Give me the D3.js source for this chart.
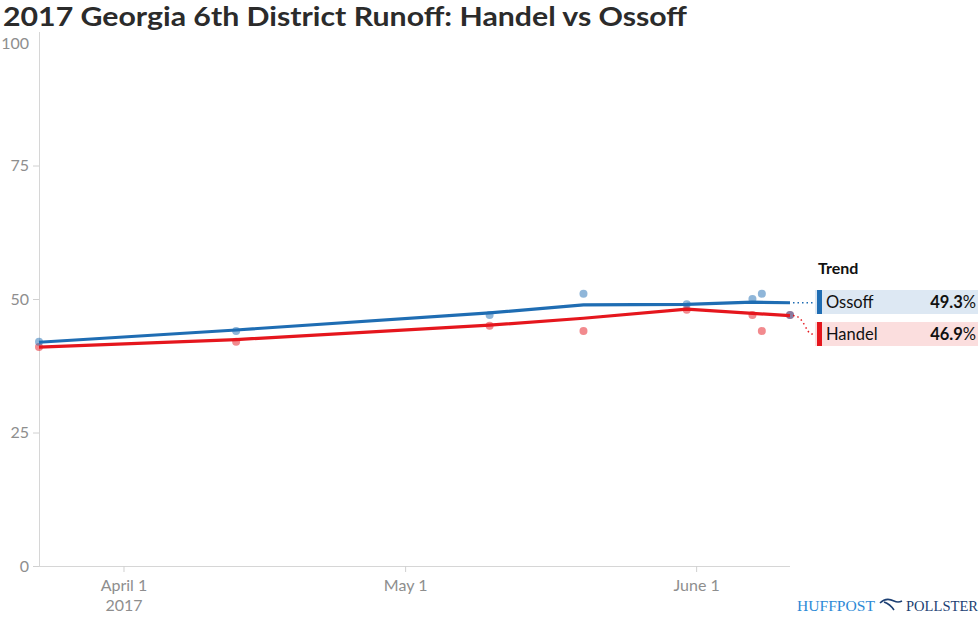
<!DOCTYPE html>
<html><head><meta charset="utf-8">
<script src="https://cdn.jsdelivr.net/npm/d3@7/dist/d3.min.js"></script>
<style>body{margin:0;background:#fff;}svg{display:block;font-family:Lato,"Open Sans",sans-serif;}</style>
</head><body><svg id="c" width="980" height="619"></svg>
<script>
const pollDates = ["2017-03-23","2017-04-13","2017-05-10","2017-05-20","2017-05-31","2017-06-07","2017-06-08","2017-06-11"];
const ossoffPolls = [42,44,47,51,49,50,51,47];
const handelPolls = [41,42,45,44,48,47,44,47];
const trendDates = ["2017-03-23","2017-04-13","2017-05-10","2017-05-20","2017-05-31","2017-06-07","2017-06-11"];
const ossoffTrend = [41.9,44.2,47.4,48.9,49.0,49.4,49.3];
const handelTrend = [41.0,42.4,45.1,46.4,48.1,47.3,46.9];
const yTicks = [0,25,50,75,100];
const xTickDates = ["2017-04-01","2017-05-01","2017-06-01"];
const xTickLabels = [["April 1","2017"],["May 1"],["June 1"]];
const legendNames = ["Ossoff","Handel"];
const legendValues = ["49.3","46.9"];

const parse = d3.utcParse("%Y-%m-%d");
const svg = d3.select("#c");
const x = d3.scaleUtc().domain([parse("2017-03-23"), parse("2017-06-11")]).range([39,790]);
const y = d3.scaleLinear().domain([0,100]).range([566,32]);

const blue = "#1f6db3", red = "#e5161d";

svg.append("text").attr("x",3).attr("y",26).attr("font-size",26).attr("font-weight",700)
  .attr("fill","#2b2b2b").attr("textLength",684).attr("lengthAdjust","spacingAndGlyphs")
  .text("2017 Georgia 6th District Runoff: Handel vs Ossoff");

// y axis
const ya = svg.append("g").attr("transform","translate(39,0)")
  .call(d3.axisLeft(y).tickValues(yTicks).tickSize(6).tickPadding(4));
ya.select(".domain").attr("stroke","#d6d6d6").attr("d","M0.5,32V566");
ya.selectAll(".tick line").attr("stroke","#d0d0d0");
ya.selectAll(".tick text").attr("fill","#8e8e8e").attr("font-size",16).attr("font-family","Lato,sans-serif")
  .attr("dy",d=>d===100?"1.05em":"0.32em");
ya.selectAll(".tick").filter(d=>d===100).select("line").remove();

// x axis
const xa = svg.append("g").attr("transform","translate(0,566)")
  .call(d3.axisBottom(x).tickValues(xTickDates.map(parse)).tickSize(6).tickFormat(""));
xa.select(".domain").attr("stroke","#d6d6d6").attr("d","M39,0.5H790");
xa.selectAll(".tick line").attr("stroke","#d0d0d0");
xa.selectAll(".tick").each(function(d,i){
  const t = d3.select(this).append("text").attr("fill","#8e8e8e").attr("font-size",16)
    .attr("text-anchor","middle").attr("font-family","Lato,sans-serif");
  xTickLabels[i].forEach((s,j)=>t.append("tspan").attr("x",0).attr("y",25+j*20).text(s));
});

// poll points
const pd = pollDates.map(parse);
svg.append("g").selectAll("circle").data(pd).join("circle")
  .attr("cx",d=>x(d)).attr("cy",(d,i)=>y(handelPolls[i])).attr("r",4)
  .attr("fill",red).attr("fill-opacity",0.5);
svg.append("g").selectAll("circle").data(pd).join("circle")
  .attr("cx",d=>x(d)).attr("cy",(d,i)=>y(ossoffPolls[i])).attr("r",4)
  .attr("fill",blue).attr("fill-opacity",0.5);

// trend lines
const td = trendDates.map(parse);
const line = d3.line().x(d=>x(d[0])).y(d=>y(d[1]));
svg.append("path").datum(td.map((d,i)=>[d,handelTrend[i]])).attr("d",line)
  .attr("fill","none").attr("stroke",red).attr("stroke-width",3.2).attr("stroke-linejoin","round");
svg.append("path").datum(td.map((d,i)=>[d,ossoffTrend[i]])).attr("d",line)
  .attr("fill","none").attr("stroke",blue).attr("stroke-width",3.2).attr("stroke-linejoin","round");

// connectors
const ex = x(td[td.length-1]);
const oy = y(ossoffTrend[ossoffTrend.length-1]), hy = y(handelTrend[handelTrend.length-1]);
const rowY = [290, 322];
svg.append("path").attr("d",`M${ex+3},${oy}H816`).attr("stroke",blue).attr("stroke-width",1.5)
  .attr("stroke-dasharray","1.5,3").attr("fill","none");
svg.append("path").attr("d",`M${ex+3},${hy} C${ex+14},${hy} ${ex+16},${rowY[1]+12} ${ex+22},${rowY[1]+12} H816`)
  .attr("stroke",red).attr("stroke-width",1.5).attr("stroke-dasharray","1.5,3").attr("fill","none");

// legend
svg.append("text").attr("x",818).attr("y",274).attr("font-size",16).attr("font-weight",700)
  .attr("fill","#111").text("Trend");
const bgs = ["#dde8f3","#fbdede"], cols = [blue, red];
legendNames.forEach((n,i)=>{
  const g = svg.append("g").attr("transform",`translate(815,${rowY[i]})`);
  g.append("rect").attr("width",163).attr("height",24).attr("fill",bgs[i]);
  g.append("rect").attr("x",2).attr("width",5).attr("height",24).attr("fill",cols[i]);
  g.append("text").attr("x",11).attr("y",18).attr("font-size",16.5).attr("fill","#111").text(n);
  const t = g.append("text").attr("x",161).attr("y",18).attr("font-size",16.5).attr("fill","#111").attr("text-anchor","end");
  t.append("tspan").attr("font-weight",700).text(legendValues[i]);
  t.append("tspan").text("%");
});

// logo
const lg = svg.append("g").attr("font-family","'Liberation Serif',serif").attr("font-size",14.5);
lg.append("text").attr("x",797).attr("y",611).attr("fill","#2d8ad6").attr("textLength",78).attr("lengthAdjust","spacingAndGlyphs").text("HUFFPOST");
lg.append("path").attr("d","M880,603 q6,-6 14,-2 q4,2 8,0 M884,602 q6,2 10,8").attr("stroke","#1c3f73").attr("stroke-width",1.6).attr("fill","none");
lg.append("text").attr("x",906).attr("y",611).attr("fill","#1c3f73").attr("textLength",72).attr("lengthAdjust","spacingAndGlyphs").text("POLLSTER");
</script></body></html>
